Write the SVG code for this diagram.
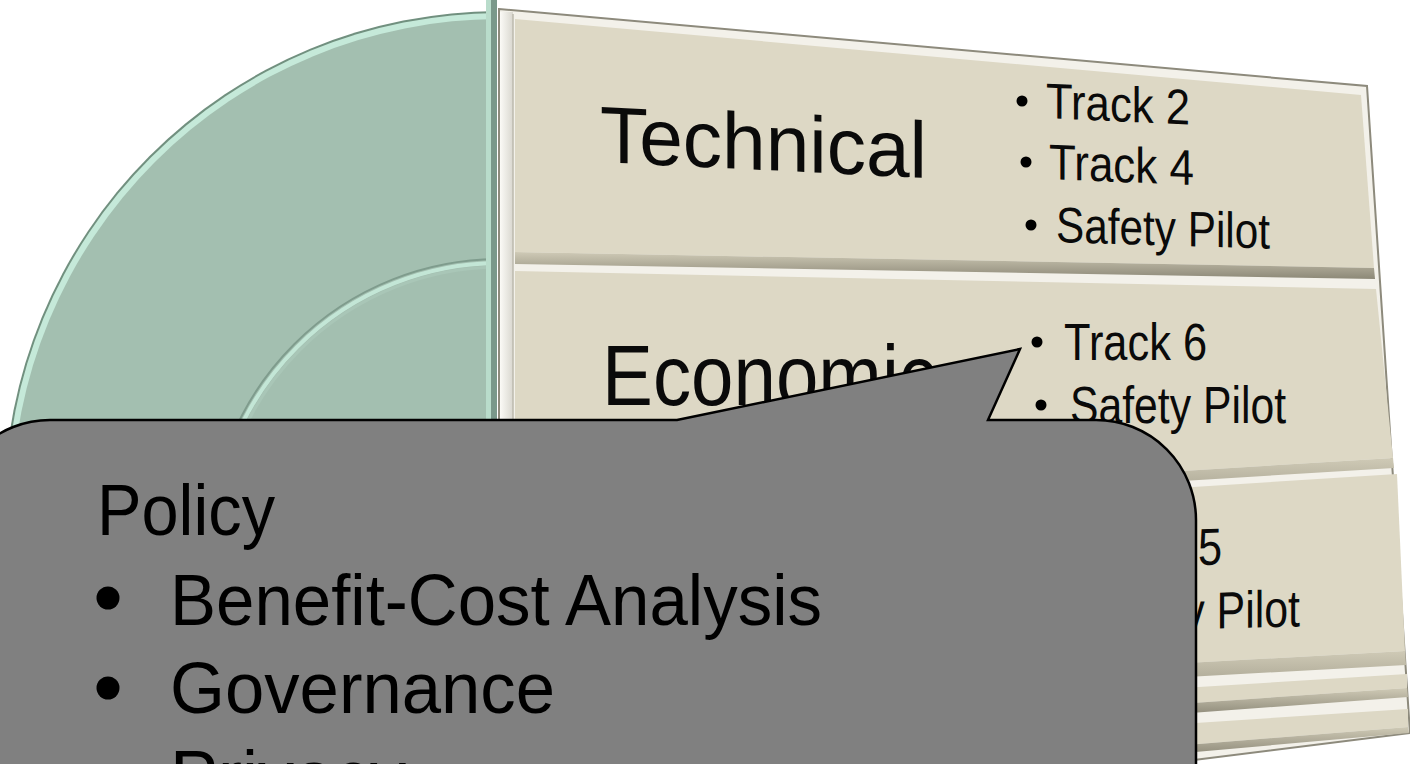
<svg xmlns="http://www.w3.org/2000/svg" width="1410" height="764" viewBox="0 0 1410 764">
<style>
.t{font-family:"Liberation Sans",Arial,sans-serif;fill:#0a0a0a}
.face{fill:#ddd8c5}
.ct{font-family:"Liberation Sans",Arial,sans-serif;fill:#000;font-size:72px}
</style>
<defs>
<clipPath id="discClip"><rect x="0" y="0" width="497" height="764"/></clipPath>
<linearGradient id="shadeG" x1="0" y1="0" x2="0" y2="1">
<stop offset="0" stop-color="#cfcab6"/><stop offset="1" stop-color="#8c8877"/>
</linearGradient>
<linearGradient id="stripG" x1="0" y1="0" x2="1" y2="0">
<stop offset="0" stop-color="#fbfaf6"/><stop offset="1" stop-color="#d9d7cf"/>
</linearGradient>
</defs>
<rect width="1410" height="764" fill="#ffffff"/>

<g id="disc">
<g clip-path="url(#discClip)">
<circle cx="500" cy="507" r="496" fill="#71907f"/>
<circle cx="500" cy="507" r="494" fill="#c5e9d9"/>
<circle cx="500" cy="507" r="488" fill="#a3bfb0"/>
<circle cx="500" cy="550" r="291" fill="none" stroke="#7f9c8d" stroke-width="2"/>
<circle cx="500" cy="550" r="287" fill="none" stroke="#c3e6d6" stroke-width="4"/>
<circle cx="500" cy="550" r="283" fill="none" stroke="#a9c6b7" stroke-width="3"/>
<rect x="486" y="0" width="5" height="764" fill="#b9dccb"/>
<rect x="491" y="0" width="6" height="764" fill="#7a988a"/>
</g>
</g>

<g id="board">
<polygon points="499,9 1367,86 1410,733 1130,768 499,768" fill="#f3f1ea" stroke="#8d8a7c" stroke-width="2"/>
<rect x="500" y="12" width="13" height="756" fill="url(#stripG)"/>
<line x1="513" y1="14" x2="513" y2="768" stroke="#bdbaae" stroke-width="1.5"/>
</g>

<g id="panel-technical">
<polygon class="face" points="515,19 1361,95 1374,268 515,252"/>
<polygon fill="url(#shadeG)" points="515,252 1374,268 1375,279 515,264"/>
<text class="t" font-size="80" textLength="327" lengthAdjust="spacingAndGlyphs" transform="translate(600,162) skewY(2.8)">Technical</text>
<circle cx="1022" cy="101" r="5.5"/>
<text class="t" font-size="50" textLength="144" lengthAdjust="spacingAndGlyphs" transform="translate(1046,118) skewY(2.6)">Track 2</text>
<circle cx="1026" cy="162" r="5.5"/>
<text class="t" font-size="50" textLength="145" lengthAdjust="spacingAndGlyphs" transform="translate(1049,179) skewY(2.4)">Track 4</text>
<circle cx="1031" cy="225" r="5.5"/>
<text class="t" font-size="50" textLength="214" lengthAdjust="spacingAndGlyphs" transform="translate(1056,242) skewY(1.8)">Safety Pilot</text>
</g>

<g id="panel-economic">
<polygon class="face" points="515,271 1376,289 1393,458 515,512"/>
<polygon fill="url(#shadeG)" points="515,512 1393,458 1394,468 515,522"/>
<text class="t" font-size="86" textLength="335" lengthAdjust="spacingAndGlyphs" x="602" y="405">Economic</text>
<circle cx="1037" cy="342" r="5.5"/>
<text class="t" font-size="52" textLength="143" lengthAdjust="spacingAndGlyphs" x="1064" y="360">Track 6</text>
<circle cx="1041" cy="405" r="5.5"/>
<text class="t" font-size="52" textLength="216" lengthAdjust="spacingAndGlyphs" x="1070" y="423">Safety Pilot</text>
</g>

<g id="panel-policy">
<polygon class="face" points="515,530 1397,474 1405,651 515,700"/>
<polygon fill="url(#shadeG)" points="515,700 1405,651 1406,665 515,714"/>
<text class="t" font-size="52" textLength="143" lengthAdjust="spacingAndGlyphs" transform="translate(1079,568) skewY(-1.5)">Track 5</text>
<text class="t" font-size="52" textLength="217" lengthAdjust="spacingAndGlyphs" transform="translate(1083,632) skewY(-1.5)">Safety Pilot</text>
</g>

<g id="base-strips">
<polygon class="face" points="1150,690 1407,674 1407,688 1150,706"/>
<polygon fill="url(#shadeG)" points="1150,706 1407,688 1408,697 1150,716"/>
<polygon class="face" points="1150,726 1408,709 1408,727 1150,748"/>
<polygon fill="url(#shadeG)" points="1150,748 1408,727 1409,733 1150,756"/>
</g>

<g id="connectors"></g>

<g id="callout">
<path d="M 50 420 L 677 420 L 1020 349 L 988 420 L 1096 420 A 100 100 0 0 1 1196 520 L 1196 800 L -50 800 L -50 520 A 100 100 0 0 1 50 420 Z" fill="#808080" stroke="#000" stroke-width="2.5"/>
<text class="ct" x="97" y="535" textLength="178" lengthAdjust="spacingAndGlyphs">Policy</text>
<circle cx="108" cy="598" r="11.5"/>
<text class="ct" x="170" y="625" textLength="652" lengthAdjust="spacingAndGlyphs">Benefit-Cost Analysis</text>
<circle cx="108" cy="688" r="11.5"/>
<text class="ct" x="170" y="713" textLength="385" lengthAdjust="spacingAndGlyphs">Governance</text>
<text class="ct" x="170" y="801">Privacy</text>
</g>
</svg>
